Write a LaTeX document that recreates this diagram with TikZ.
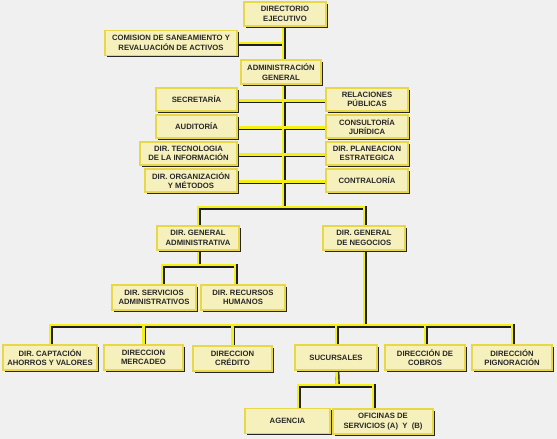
\documentclass[tikz,border=0pt]{standalone}
\usepackage{fontspec}
\setmainfont{Liberation Sans}
\usepackage{tikz}
\usetikzlibrary{shadows}
\definecolor{bgGray}{RGB}{240, 240, 240}
\definecolor{boxFill}{RGB}{246, 240, 188}
\definecolor{boxEdge}{RGB}{232, 216, 72}
\definecolor{lineYellow}{RGB}{244, 240, 20}
\definecolor{lineShade}{RGB}{30, 30, 30}
\definecolor{txtDark}{RGB}{40, 40, 40}
\pgfdeclarelayer{background}
\pgfsetlayers{background,main}

\begin{document}
\begin{tikzpicture}[x=1pt, y=-1pt,
    box/.style={draw=boxEdge, fill=boxFill, line width=1.4pt, minimum height=24pt,
      inner sep=1pt, align=center, text=txtDark,
      font=\fontsize{7.7}{9.5}\selectfont\bfseries,
      drop shadow={shadow xshift=1.6pt, shadow yshift=-1.6pt, fill=black!85, opacity=1}}]
        % top of the chart
        \node[box, minimum width=82pt] (dirEje) at (285,14) {DIRECTORIO\\EJECUTIVO};
        \node[box, minimum width=132pt, minimum height=25pt] (comision) at (171,43) {COMISION DE SANEAMIENTO Y\\REVALUACIÓN DE ACTIVOS};
        \node[box, minimum width=80pt] (admGen) at (281,72) {ADMINISTRACIÓN\\GENERAL};
        % staff units, left and right of the trunk
        \node[box, minimum width=81pt, minimum height=23pt] (secre) at (196.5,99.5) {SECRETARÍA};
        \node[box, minimum width=81pt, minimum height=23pt] (audit) at (196.5,126.5) {AUDITORÍA};
        \node[box, minimum width=97pt, minimum height=23pt] (dirTec) at (188.5,153.5) {DIR. TECNOLOGIA\\DE LA INFORMACIÓN};
        \node[box, minimum width=92pt, minimum height=23pt] (dirOrg) at (191,180.5) {DIR. ORGANIZACIÓN\\Y MÉTODOS};
        \node[box, minimum width=82pt, minimum height=23pt] (relPub) at (367,99.5) {RELACIONES\\PÚBLICAS};
        \node[box, minimum width=82pt, minimum height=23pt] (consul) at (367,126.5) {CONSULTORÍA\\JURÍDICA};
        \node[box, minimum width=82pt, minimum height=23pt] (dirPlan) at (367,153.5) {DIR. PLANEACION\\ESTRATEGICA};
        \node[box, minimum width=82pt, minimum height=23pt] (contra) at (367,180.5) {CONTRALORÍA};
        % general directions
        \coordinate (split) at (283,207);
        \node[box, minimum width=82pt] (dgAdm) at (198,238) {DIR. GENERAL\\ADMINISTRATIVA};
        \node[box, minimum width=82pt] (dgNeg) at (364,238) {DIR. GENERAL\\DE NEGOCIOS};
        \coordinate (admSplit) at (198,265);
        \node[box, minimum width=84pt, minimum height=25pt] (servAdm) at (154,297.5) {DIR. SERVICIOS\\ADMINISTRATIVOS};
        \node[box, minimum width=84pt, minimum height=25pt] (recHum) at (243,297.5) {DIR. RECURSOS\\HUMANOS};
        % business row
        \coordinate (negSplit) at (364,325);
        \node[box, minimum width=94pt, minimum height=25pt] (capta) at (50,357.5) {DIR. CAPTACIÓN\\AHORROS Y VALORES};
        \node[box, minimum width=79pt, minimum height=25pt] (merca) at (143.5,357.5) {DIRECCION\\MERCADEO};
        \node[box, minimum width=79pt, minimum height=25pt] (credi) at (232.5,358.5) {DIRECCION\\CRÉDITO};
        \node[box, minimum width=82pt, minimum height=25pt] (sucur) at (336,357.5) {SUCURSALES};
        \node[box, minimum width=80pt, minimum height=25pt] (cobro) at (425,357.5) {DIRECCIÓN DE\\COBROS};
        \node[box, minimum width=80pt, minimum height=25pt] (pigno) at (512,357.5) {DIRECCIÓN\\PIGNORACIÓN};
        % branches
        \coordinate (sucSplit) at (337,385);
        \node[box, minimum width=85pt, minimum height=25pt] (agenc) at (287.5,421) {AGENCIA};
        \node[box, minimum width=100pt, minimum height=25pt] (ofici) at (383,421.5) {OFICINAS DE\\SERVICIOS (A)\ \ Y\ \ (B)};

        \begin{pgfonlayer}{background}
        \fill[bgGray] (0,0) rectangle (557,439);
        % two passes: wide dark line, then the yellow line on top
        \foreach \col/\wd/\off in {lineShade/4.2/0.8, lineYellow/2.9/0} {
        \begin{scope}[every path/.style={draw=\col, line width=\wd pt,
            transform canvas={xshift=\off pt, yshift=-\off pt}}]
        % trunk and staff arms
        \draw (dirEje.south -| split) -- (split);
        \draw (comision.east) -- (comision.east -| split);
        \foreach \n in {secre,audit,dirTec,dirOrg}
          \draw ([yshift=-1pt]\n.east) -- ([yshift=-1pt]\n.east -| split);
        \foreach \n in {relPub,consul,dirPlan,contra}
          \draw ([yshift=-1pt]\n.west) -- ([yshift=-1pt]\n.west -| split);
        \draw (split) -| (dgAdm);
        \draw (split) -| (dgNeg);
        % administrative side
        \draw (dgAdm) -- (admSplit);
        \draw (admSplit) -| ([xshift=8pt]servAdm.north);
        \draw (admSplit) -| ([xshift=-8pt]recHum.north);
        % business side
        \draw (dgNeg) -- (negSplit);
        \foreach \n in {capta,merca,credi,sucur,cobro,pigno}
          \draw (negSplit) -| (\n);
        \draw (sucur) -- (sucSplit);
        \draw (sucSplit) -| ([xshift=10.5pt]agenc.north);
        \draw (sucSplit) -| ([xshift=-10pt]ofici.north);
        \end{scope}
        }
        \end{pgfonlayer}
      \end{tikzpicture}
\end{document}
